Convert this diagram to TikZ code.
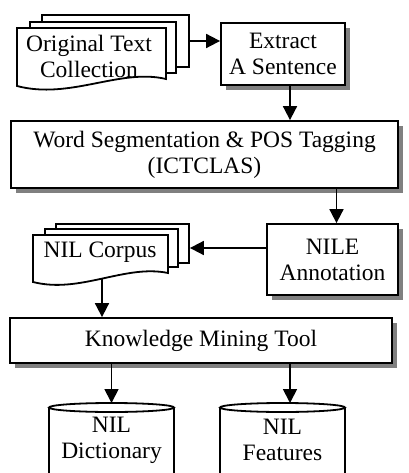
\documentclass[tikz,border=0pt]{standalone}
\usepackage{fontspec}
\setmainfont{Liberation Serif}
\usetikzlibrary{arrows.meta,shadows}

\begin{document}
\begin{tikzpicture}
	[x = 1pt, y = -1pt,
	every node/.style = {font=\fontsize{23.5}{26}\selectfont, align=center, inner sep=0pt},
	box/.style = {draw, line width=1.8pt, fill=white, drop shadow={shadow xshift=5pt, shadow yshift=-5pt, fill=gray, opacity=1}},
	page/.style = {draw, line width=1.8pt, fill=white},
	flow/.style = {line width=1.8pt, -{Triangle[length=14pt,width=14pt]}}]
	\useasboundingbox (0,0) rectangle (408,473);
	\clip (0,0) rectangle (408,473);
	% text collection stack
	\node [page, minimum width=147pt, minimum height=52pt] (orig3) at (115.5,41) {};
	\node [page, minimum width=146pt, minimum height=51pt] (orig2) at (103,47.5) {};
	\draw [page] (17,28) -- (166,28) -- (166,79) .. controls (120,68) and (70,100) .. (17,86) -- cycle;
	\node (orig) at (89,56) {Original Text\\Collection};
	\node [box, minimum width=124pt, minimum height=62pt] (extract) at (283,54) {Extract\\A Sentence};
	\node [box, minimum width=387pt, minimum height=67pt] (wordseg) at (204.5,154.5) {Word Segmentation \& POS Tagging\\(ICTCLAS)};
	\node [box, minimum width=131pt, minimum height=71pt] (nile) at (332.5,259.5) {NILE\\Annotation};
	% corpus stack
	\node [page, minimum width=133pt, minimum height=39pt] (corpus3) at (122.5,243.5) {};
	\node [page, minimum width=133pt, minimum height=38pt] (corpus2) at (111.5,248) {};
	\draw [page] (33,235) -- (168,235) -- (168,273) .. controls (125,264) and (80,294) .. (33,282) -- cycle;
	\node (corpus) at (100,252) {NIL Corpus};
	\coordinate (corpusfoot) at (102,279);
	\node [box, minimum width=382pt, minimum height=45pt] (kmt) at (201,340.5) {Knowledge Mining Tool};
	% data stores
	\draw [page] (49,407.5) -- (49,490) -- (174,490) -- (174,407.5);
	\draw [page] (111.5,407.5) ellipse [x radius=62.5pt, y radius=4.5pt];
	\draw [page] (220,407.5) -- (220,490) -- (345,490) -- (345,407.5);
	\draw [page] (282.5,407.5) ellipse [x radius=62.5pt, y radius=4.5pt];
	\coordinate (dicttop) at (111.5,403);
	\coordinate (feattop) at (290,403);
	\node (dict) at (111.5,440) {NIL\\Dictionary};
	\node (feat) at (282.5,440) {NIL\\Features};
	% arrows
	\draw [flow] (orig3.east) -- (orig3.east -| extract.west);
	\draw [flow] ([xshift=7pt]extract.south) -- ([xshift=7pt]extract.south |- wordseg.north);
	\draw [flow] ([xshift=4pt]nile.north |- wordseg.south) -- ([xshift=4pt]nile.north);
	\draw [flow] (nile.west |- corpus2.east) -- (corpus3.east |- corpus2.east);
	\draw [flow] (corpusfoot) -- (corpusfoot |- kmt.north);
	\draw [flow] (dicttop |- kmt.south) -- (dicttop);
	\draw [flow] (feattop |- kmt.south) -- (feattop);
\end{tikzpicture}
\end{document}
